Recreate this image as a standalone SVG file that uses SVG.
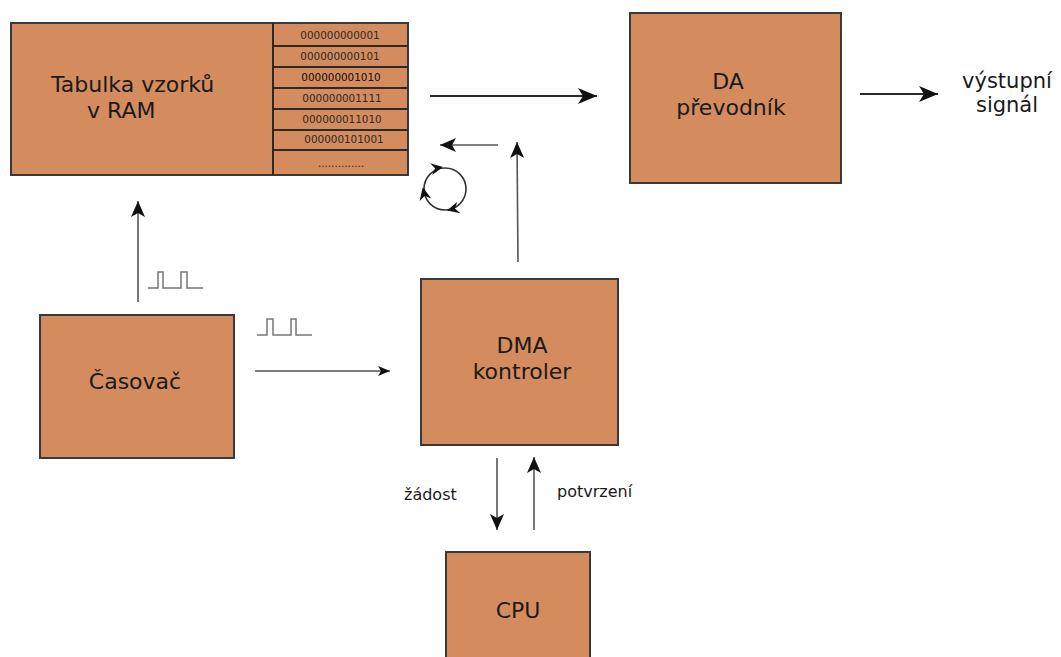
<svg xmlns="http://www.w3.org/2000/svg" width="1061" height="657" viewBox="0 0 1061 657">
  <style>
    .box { fill: #d48c5e; stroke: #3a3a3a; stroke-width: 2; }
    .lbl { font-family: "DejaVu Sans", Verdana, sans-serif; font-size: 22px; fill: #1a1a1a; text-anchor: middle; }
    .lbl-l { font-family: "DejaVu Sans", Verdana, sans-serif; font-size: 22px; fill: #1a1a1a; text-anchor: start; }
    .out { font-family: "DejaVu Sans", Verdana, sans-serif; font-size: 21px; fill: #1a1a1a; text-anchor: middle; }
    .small { font-family: "DejaVu Sans", Verdana, sans-serif; font-size: 16px; fill: #1a1a1a; }
    .cell { font-family: "DejaVu Sans", Verdana, sans-serif; font-size: 10.4px; fill: #2a2a2a; text-anchor: middle; }
    .wire { fill: none; stroke: #2a2a2a; stroke-width: 2; }
    .thin { fill: none; stroke: #555; stroke-width: 1.6; }
    .pulse { fill: none; stroke: #777; stroke-width: 1.5; }
  </style>
  <defs>
    <marker id="head" markerUnits="userSpaceOnUse" markerWidth="24" markerHeight="18" viewBox="-20 -9 22 18" refX="0" refY="0" orient="auto">
      <path d="M0,0 L-19,-8 L-14,0 L-19,8 Z" fill="#111"/>
    </marker>
    <marker id="headS" markerUnits="userSpaceOnUse" markerWidth="20" markerHeight="16" viewBox="-17 -8 19 16" refX="0" refY="0" orient="auto">
      <path d="M0,0 L-16,-7 L-12,0 L-16,7 Z" fill="#111"/>
    </marker>
    <marker id="headT" markerUnits="userSpaceOnUse" markerWidth="16" markerHeight="12" viewBox="-13 -6 15 12" refX="0" refY="0" orient="auto">
      <path d="M0,0 L-12,-5 L-9,0 L-12,5 Z" fill="#111"/>
    </marker>
  </defs>

  <!-- sample table in RAM -->
  <g id="ram">
    <rect class="box" x="11" y="23" width="397" height="152"/>
    <line x1="273" y1="23" x2="273" y2="175" stroke="#2a2a2a" stroke-width="2"/>
    <g stroke="#2a2a2a" stroke-width="2">
      <line x1="273" y1="46" x2="408" y2="46"/>
      <line x1="273" y1="67" x2="408" y2="67"/>
      <line x1="273" y1="88" x2="408" y2="88"/>
      <line x1="273" y1="109" x2="408" y2="109"/>
      <line x1="273" y1="130" x2="408" y2="130"/>
      <line x1="273" y1="150" x2="408" y2="150"/>
    </g>
    <text class="cell" x="340" y="39">000000000001</text>
    <text class="cell" x="340" y="60">000000000101</text>
    <text class="cell" x="341" y="81" style="fill:#0d0d0d">000000001010</text>
    <text class="cell" x="342" y="102">000000001111</text>
    <text class="cell" x="342" y="123">000000011010</text>
    <text class="cell" x="344" y="143">000000101001</text>
    <text class="cell" x="341" y="167">..............</text>
    <text class="lbl-l" x="51" y="92">Tabulka vzorků</text>
    <text class="lbl-l" x="87" y="118">v RAM</text>
  </g>

  <!-- D/A converter -->
  <g id="dac">
    <rect class="box" x="630" y="13" width="211" height="170"/>
    <text class="lbl" x="728" y="89">DA</text>
    <text class="lbl" x="731" y="115">převodník</text>
  </g>

  <!-- output label -->
  <g id="output">
    <text class="out" x="1007" y="88">výstupní</text>
    <text class="out" x="1007" y="112">signál</text>
  </g>

  <!-- timer -->
  <g id="timer">
    <rect class="box" x="40" y="315" width="194" height="143"/>
    <text class="lbl" x="135" y="389">Časovač</text>
  </g>

  <!-- DMA controller -->
  <g id="dma">
    <rect class="box" x="421" y="279" width="197" height="166"/>
    <text class="lbl" x="522" y="353">DMA</text>
    <text class="lbl" x="522" y="379">kontroler</text>
  </g>

  <!-- CPU -->
  <g id="cpu">
    <rect class="box" x="446" y="552" width="144" height="110"/>
    <text class="lbl" x="518" y="618">CPU</text>
  </g>

  <!-- connectors -->
  <g id="connectors">
    <line class="wire" x1="430" y1="96" x2="597" y2="96" marker-end="url(#head)"/>
    <line class="wire" x1="860" y1="94" x2="938" y2="94" marker-end="url(#head)"/>
    <line class="thin" x1="498" y1="145" x2="440" y2="145" marker-end="url(#headS)"/>
    <line class="thin" x1="518" y1="262" x2="517" y2="142" marker-end="url(#headS)"/>
    <line class="thin" x1="138" y1="302" x2="138" y2="201" marker-end="url(#headS)"/>
    <line class="thin" x1="255" y1="371" x2="390" y2="371" marker-end="url(#headT)"/>
    <line class="thin" x1="497" y1="458" x2="497" y2="530" marker-end="url(#headS)"/>
    <line class="thin" x1="534" y1="530" x2="534" y2="457" marker-end="url(#headS)"/>
    <text class="small" x="404" y="500">žádost</text>
    <text class="small" x="557" y="497">potvrzení</text>

    <!-- clock pulses -->
    <path class="pulse" d="M148,288 H158 V272 H163 V288 H181 V272 H187 V288 H203"/>
    <path class="pulse" d="M257,335 H267 V319 H273 V335 H291 V319 H296 V335 H312"/>

    <!-- cycle symbol, clockwise -->
    <circle cx="445" cy="189" r="21" fill="none" stroke="#333" stroke-width="1.6"/>
    <path d="M443,168 L431,162 L435,168 L431,174 Z" fill="#111" transform="rotate(-10 437 168)"/>
    <path d="M424,187 L418,200 L424,196 L430,200 Z" fill="#111" transform="rotate(-12 424 193)"/>
    <path d="M447,209 L459,203 L455,209 L459,215 Z" fill="#111" transform="rotate(-15 453 209)"/>
  </g>
</svg>
